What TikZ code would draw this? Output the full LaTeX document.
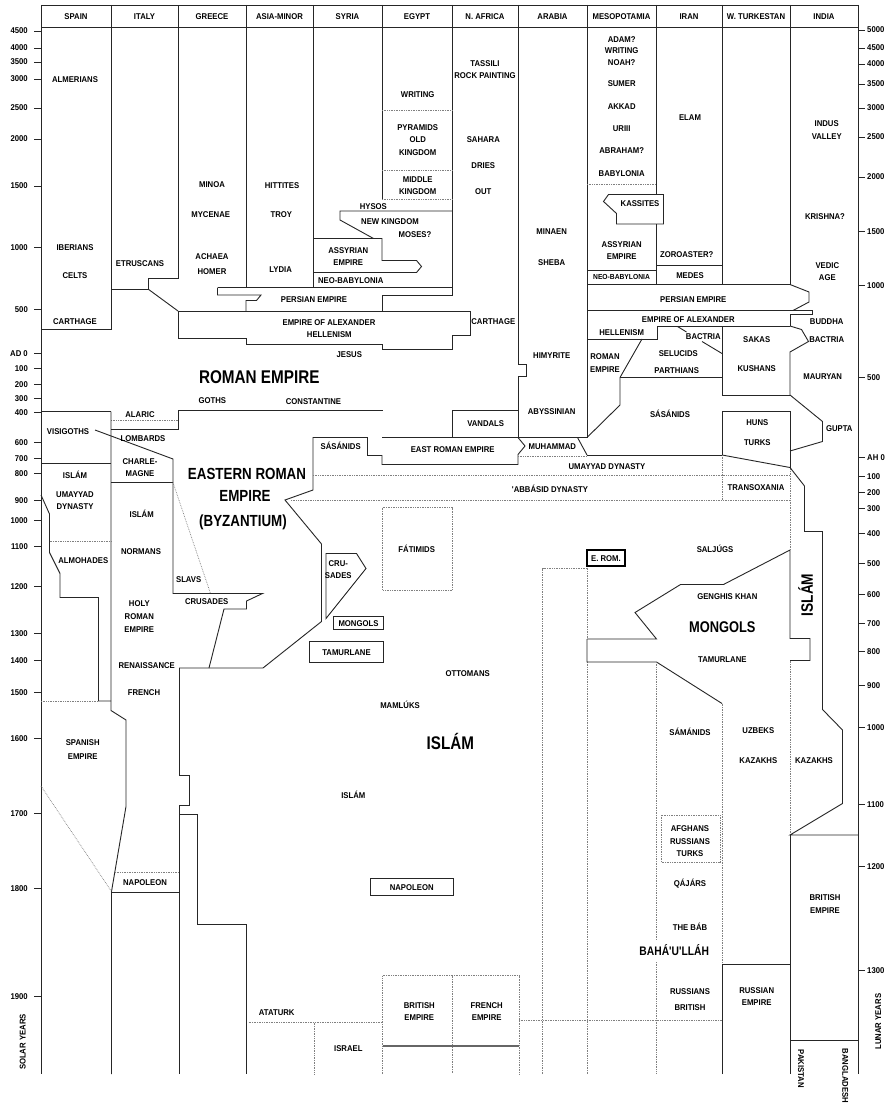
\documentclass[tikz,border=0pt]{standalone}
\usepackage{fontspec}
\newfontfamily\labfont{Liberation Sans}[FakeStretch=0.92]
\newfontfamily\bigfont{Liberation Sans}[FakeStretch=0.83]
\newcommand\tl[4]{\node[lab] (#1) at (#2,#3) {#4};}
\begin{document}
\begin{tikzpicture}[x=1pt,y=-1pt,
 ln/.style={line width=0.9pt, black!85, line join=miter},
 dt/.style={line width=0.7pt, black!50, dash pattern=on 0.7pt off 1pt},
 lab/.style={inner sep=0pt, font=\labfont\bfseries\fontsize{8.4}{9}\selectfont, text height=6pt, text depth=0pt},
 big/.style={inner sep=0pt, anchor=base, font=\bigfont\bfseries\fontsize{#1}{#1}\selectfont}]
\useasboundingbox[fill=white] (0,0) rectangle (891,1110);

% frame and axes
\draw[ln] (41,5)--(858,5);
\draw[ln] (41,27)--(858,27);
\draw[ln] (41,5)--(41,1074);
\draw[ln] (858,5)--(858,1074);
\foreach \v/\y [count=\i] in {4500/31,4000/48,3500/62,3000/79,2500/108,2000/139,1500/186,1000/247,500/309,AD 0/353,100/368.5,200/384,300/398,400/412,600/442,700/458,800/473.5,900/500,1000/520.5,1100/546,1200/586,1300/633,1400/660.5,1500/692,1600/738,1700/813,1800/888,1900/996}
 {\draw[ln] (34,\y)--(41,\y); \node[lab,anchor=east] (L\i) at (28,\y) {\v};}
\foreach \v/\y [count=\i] in {5000/30,4500/48,4000/64,3500/84,3000/108,2500/137,2000/177,1500/231,1000/285,500/377,AH 0/457.5,100/476.5,200/492.5,300/508.5,400/533,500/563,600/594.5,700/623.5,800/651.5,900/685.5,1000/727.5,1100/804,1200/866.5,1300/970.5}
 {\draw[ln] (858,\y)--(865,\y); \node[lab,anchor=west] (R\i) at (867,\y) {\v};}

% column lines (upper)
\draw[ln] (111,5)--(111,329)--(41,329);
\draw[ln] (111,289)--(148,289)--(148,278)--(178,278)--(178,5);
\draw[ln] (148,289)--(178,311);
\draw[ln] (246,5)--(246,287.5);
\draw[ln] (313,5)--(313,287.5);
\draw[ln] (382,5)--(382,199);
\draw[ln] (452,5)--(452,295)--(382,295)--(382,311);
\draw[ln] (518,5)--(518,364.5)--(526.5,364.5)--(526.5,376.5)--(518,376.5)--(518,437.5);
\draw[ln] (587,5)--(587,437.5);
\draw[ln] (656,5)--(656,194.5);
\draw[ln] (656,224)--(656,284.5);
\draw[ln] (722,5)--(722,284.5);
\draw[ln] (790,5)--(790,284.5);

% Syria / Egypt upper
\draw[ln] (313,238.5)--(382,238.5)--(382,260.5)--(416.5,260.5)--(421.5,266.5)--(416.5,272.5)--(313,272.5);
\draw[ln] (452,211)--(340,211)--(340,220)--(373.5,238.5);
\draw[ln] (217.5,287.5)--(452,287.5);
\draw[ln] (217.5,287.5)--(217.5,295)--(261,295)--(256.5,300.5)--(246,300.5)--(246,311);
\draw[ln] (178,311)--(470,311);
\draw[ln] (178,311)--(178,338)--(246,338)--(246,344)--(382,344)--(382,349.5)--(452,349.5)--(452,335.5)--(470,335.5)--(470,311);
\draw[dt] (382,110.5)--(452,110.5);
\draw[dt] (382,170.5)--(452,170.5);
\draw[dt] (382,199)--(452,199);

% Mesopotamia / Iran / India upper
\draw[dt] (587,184.5)--(656,184.5);
\draw[ln] (608.5,194.5)--(663.5,194.5)--(663.5,224)--(616.5,224)--(616.5,213.5)--(603.5,201.5)--cycle;
\draw[ln] (587,270.5)--(656,270.5);
\draw[ln] (656,265.5)--(722,265.5);
\draw[ln] (587,284.5)--(790,284.5)--(809,292)--(809,302)--(793,310.5);
\draw[ln] (587,310.5)--(812,310.5)--(812,314.5)--(790,314.5)--(790,326);
\draw[ln] (587,339)--(657,339)--(657,326)--(790,326);
\draw[ln] (642,339)--(620,377.5)--(620,405)--(587,437.5);
\draw[ln] (620,377.5)--(722,377.5);
\draw[ln] (677.5,326.5)--(686.5,332);
\draw[ln] (702,341.5)--(722,353.5);
\draw[ln] (722,326)--(722,395)--(790,395);
\draw[ln] (790,326)--(801.5,329.5)--(808.5,341.5)--(790,352)--(790,395)--(822.5,421.5)--(822.5,441.5)--(790,451);
\draw[ln] (722,455)--(722,411)--(790,411)--(790,467.5);
\draw[ln] (722,455)--(790,467.5);
\draw[ln] (587,455)--(722,455);
\draw[ln] (577.5,437.5)--(587,455);

% Roman / Byzantine
\draw[ln] (382,437.5)--(587,437.5);
\draw[ln] (518,437.5)--(525,446)--(518,454.5)--(518,464.5)--(382,464.5)--(382,455.5)--(367.5,455.5)--(367.5,437.5)--(313,437.5)--(313,490)--(285,500)--(321.5,544)--(321.5,621.5)--(263,668)--(179,668);
\draw[ln] (452,437.5)--(452,410)--(518,410);
\draw[ln] (178,410.5)--(382.5,410.5);
\draw[ln] (178,410.5)--(178,429.5)--(111,429.5);
\draw[dt] (111,420)--(178,420);
\draw[ln] (41,411.5)--(111,411.5);
\draw[ln] (41,463.5)--(111,463.5);
\draw[ln] (111,411.5)--(111,710.5)--(126,720)--(126,806.5)--(111.5,891.5)--(111.5,1074);
\draw[ln] (111,482.5)--(173,482.5);
\draw[ln] (95,430)--(173,459)--(173,593.5)--(262.5,593.5)--(246.5,601)--(246.5,609)--(224,609)--(209,668);
\draw[dt] (173,482.5)--(210.5,593.5);
\draw[ln] (41,495)--(49.5,514)--(49.5,552.5)--(60,573.5)--(60,597.5)--(98.5,597.5)--(98.5,701)--(111,701);
\draw[dt] (49.5,541.5)--(111,541.5);
\draw[dt] (41,701)--(98.5,701);
\draw[dt] (41,786)--(111.5,891.5);
\draw[dt] (115,872.5)--(179,872.5);
\draw[ln] (111.5,892.5)--(179,892.5);
\draw[ln] (179,668)--(179,775)--(189.5,775)--(189.5,805.5)--(179,805.5)--(179,1074);
\draw[ln] (179,814.5)--(197.5,814.5)--(197.5,924.5)--(246,924.5)--(246,1074);

% lower middle
\draw[dt] (248.5,1022.5)--(382.5,1022.5);
\draw[dt] (314.5,1022.5)--(314.5,1074);
\draw[dt] (382.5,1074)--(382.5,975.5)--(519,975.5)--(519,1074);
\draw[dt] (452.5,975.5)--(452.5,1074);
\draw[line width=1.6pt, black!60] (382.5,1046)--(519,1046);
\draw[dt] (519,1020)--(722,1020);
\draw[dt] (542.5,1074)--(542.5,568.5)--(587,568.5);
\draw[dt] (587,566)--(587,639);
\draw[dt] (587,662)--(587,1074);
\draw[dt] (518,456.5)--(587,456.5);
\draw[dt] (313,475.5)--(790,475.5);
\draw[dt] (291,500.5)--(790,500.5);
\draw[dt] (722,455)--(722,500.5);
\draw[dt] (382.5,507.5) rectangle (452.5,590);
\draw[ln] (326,553.5)--(356.5,553.5)--(366,568.5)--(326,618.5)--cycle;
\draw[ln] (333.5,616) rectangle (383.5,629.5);
\draw[ln] (309.5,641.5) rectangle (383.5,662.5);
\draw[ln] (370,878.5) rectangle (453.5,895.5);

% Iran / Turkestan / India lower
\draw[ln] (587,639)--(656.5,639)--(635,612.5)--(680.5,584.5)--(723.5,584.5)--(790,550)--(790,638.5)--(810,638.5)--(810,660.5)--(790,660.5);
\draw[ln] (587,639)--(587,662)--(656.5,662)--(722,703.5);
\draw[dt] (722,703.5)--(722,964);
\draw[ln] (722,1074)--(722,964)--(790,964);
\draw[dt] (656.5,662)--(656.5,940);
\draw[dt] (656.5,962)--(656.5,1074);
\draw[dt] (790,467.5)--(790,550);
\draw[dt] (790,660.5)--(790,835);
\draw[ln] (790,467.5)--(804.5,486)--(804.5,531.5)--(822.5,531.5)--(822.5,709.5)--(842.5,730)--(842.5,803.5)--(790,835)--(858,835);
\draw[ln] (790,835)--(790,1074);
\draw[ln] (790,1040.5)--(858,1040.5);
\draw[dt] (661.5,815) rectangle (720,862.5);
\draw[line width=1.5pt] (587,550) rectangle (625,566);

% headers
\tl{h1}{76}{17}{SPAIN}
\tl{h2}{144.5}{17}{ITALY}
\tl{h3}{212}{17}{GREECE}
\tl{h4}{279.5}{17}{ASIA-MINOR}
\tl{h5}{347.5}{17}{SYRIA}
\tl{h6}{417}{17}{EGYPT}
\tl{h7}{485}{17}{N. AFRICA}
\tl{h8}{552.5}{17}{ARABIA}
\tl{h9}{621.5}{17}{MESOPOTAMIA}
\tl{h10}{689}{17}{IRAN}
\tl{h11}{756}{17}{W. TURKESTAN}
\tl{h12}{824}{17}{INDIA}

% Spain
\tl{s1}{75}{80}{ALMERIANS}
\tl{s2}{75}{247}{IBERIANS}
\tl{s3}{75}{275.5}{CELTS}
\tl{s4}{75}{321.7}{CARTHAGE}
\tl{s5}{68}{431}{VISIGOTHS}
\tl{s6}{75}{475}{ISLÁM}
\tl{s7}{75}{494}{UMAYYAD}
\tl{s8}{75}{506.7}{DYNASTY}
\tl{s9}{83.3}{560}{ALMOHADES}
\tl{s10}{82.7}{742.7}{SPANISH}
\tl{s11}{82.7}{756}{EMPIRE}

% Italy
\tl{i1}{140}{263}{ETRUSCANS}
\tl{i2}{140}{414.3}{ALARIC}
\tl{i3}{143}{438.3}{LOMBARDS}
\tl{i4}{140}{461}{CHARLE-}
\tl{i5}{140}{473.3}{MAGNE}
\tl{i6}{141.7}{514.3}{ISLÁM}
\tl{i7}{141}{551}{NORMANS}
\tl{i8}{139.3}{603.3}{HOLY}
\tl{i9}{139.3}{616.7}{ROMAN}
\tl{i10}{139.3}{629.3}{EMPIRE}
\tl{i11}{146.7}{665}{RENAISSANCE}
\tl{i12}{144}{692.7}{FRENCH}
\tl{i13}{145}{882.7}{NAPOLEON}

% Greece / Asia Minor
\tl{g1}{212}{185}{MINOA}
\tl{g2}{210.7}{214.3}{MYCENAE}
\tl{g3}{212}{256}{ACHAEA}
\tl{g4}{212}{271.7}{HOMER}
\tl{g5}{188.7}{579.3}{SLAVS}
\tl{g6}{206.7}{601.7}{CRUSADES}
\tl{g7}{212.3}{400.7}{GOTHS}
\tl{g8}{276.7}{1012.7}{ATATURK}
\tl{a1}{282}{185.7}{HITTITES}
\tl{a2}{281.3}{214.3}{TROY}
\tl{a3}{280.7}{269.3}{LYDIA}
\tl{a4}{314}{299.5}{PERSIAN EMPIRE}
\tl{a5}{329}{322.3}{EMPIRE OF ALEXANDER}
\tl{a6}{329.3}{334.3}{HELLENISM}
\tl{a7}{349.3}{354.3}{JESUS}
\tl{a8}{313.5}{401}{CONSTANTINE}
\node[big=18.4] (roman) at (259.3,383.9) {ROMAN EMPIRE};
\node[big=16.1] (ere1) at (247,479.8) {EASTERN ROMAN};
\node[big=16.1] (ere2) at (245,501.8) {EMPIRE};
\node[big=16.1] (ere3) at (243,526.5) {(BYZANTIUM)};

% Syria
\tl{y1}{373.3}{206.7}{HYSOS}
\tl{y2}{390}{221}{NEW KINGDOM}
\tl{y3}{415}{234.3}{MOSES?}
\tl{y4}{348.3}{250}{ASSYRIAN}
\tl{y5}{348.3}{262.7}{EMPIRE}
\tl{y6}{350.7}{280}{NEO-BABYLONIA}
\tl{y7}{340.7}{446}{SÁSÁNIDS}
\tl{y8}{338.3}{563.3}{CRU-}
\tl{y9}{338.3}{575.7}{SADES}
\tl{y10}{358.5}{623}{MONGOLS}
\tl{y11}{346.5}{652.3}{TAMURLANE}
\tl{y12}{353.3}{795}{ISLÁM}
\tl{y13}{348.3}{1048}{ISRAEL}
\tl{y14}{400}{705}{MAMLÚKS}

% Egypt
\tl{e1}{417.7}{94.3}{WRITING}
\tl{e2}{417.7}{127.7}{PYRAMIDS}
\tl{e3}{417.7}{140}{OLD}
\tl{e4}{417.7}{152.7}{KINGDOM}
\tl{e5}{417.7}{179.3}{MIDDLE}
\tl{e6}{417.7}{191.7}{KINGDOM}
\tl{e7}{452.7}{449.3}{EAST ROMAN EMPIRE}
\tl{e8}{416.7}{549.3}{FÁTIMIDS}
\node[big=18.3] (islam) at (450.3,749.9) {ISLÁM};
\tl{e9}{411.7}{887}{NAPOLEON}
\tl{e10}{419.3}{1005}{BRITISH}
\tl{e11}{419.3}{1017.7}{EMPIRE}

% N. Africa
\tl{n1}{485}{63.3}{TASSILI}
\tl{n2}{485}{76}{ROCK PAINTING}
\tl{n3}{483.3}{140}{SAHARA}
\tl{n4}{483.3}{165.7}{DRIES}
\tl{n5}{483.3}{191.7}{OUT}
\tl{n6}{493.3}{321.7}{CARTHAGE}
\tl{n7}{485.7}{423.3}{VANDALS}
\tl{n8}{467.7}{673.3}{OTTOMANS}
\tl{n9}{486.7}{1005}{FRENCH}
\tl{n10}{486.7}{1017.7}{EMPIRE}
\tl{n11}{550}{489.3}{'ABBÁSID DYNASTY}

% Arabia
\tl{r1}{551.7}{231}{MINAEN}
\tl{r2}{551.7}{262.3}{SHEBA}
\tl{r3}{551.7}{355.7}{HIMYRITE}
\tl{r4}{551.7}{411.7}{ABYSSINIAN}
\tl{r5}{552.3}{446.7}{MUHAMMAD}
\tl{r6}{607}{466.7}{UMAYYAD DYNASTY}

% Mesopotamia
\tl{m1}{621.7}{39.3}{ADAM?}
\tl{m2}{621.7}{51}{WRITING}
\tl{m3}{621.7}{62.3}{NOAH?}
\tl{m4}{621.7}{84}{SUMER}
\tl{m5}{621.7}{106.7}{AKKAD}
\tl{m6}{621.7}{128.3}{URIII}
\tl{m7}{621.7}{151}{ABRAHAM?}
\tl{m8}{621.7}{173.3}{BABYLONIA}
\tl{m9}{640}{204}{KASSITES}
\tl{m10}{621.7}{244.3}{ASSYRIAN}
\tl{m11}{621.7}{256.7}{EMPIRE}
\node[lab, font=\labfont\bfseries\fontsize{7.3}{8}\selectfont, text height=5.2pt] (m12) at (621.5,277.3) {NEO-BABYLONIA};
\tl{m13}{621.7}{332}{HELLENISM}
\tl{m14}{605}{356}{ROMAN}
\tl{m15}{605}{369.3}{EMPIRE}
\tl{m16}{606}{558}{E. ROM.}

% Iran
\tl{p1}{690}{117.3}{ELAM}
\tl{p2}{686.7}{254}{ZOROASTER?}
\tl{p3}{690}{275}{MEDES}
\tl{p4}{693.3}{299.3}{PERSIAN EMPIRE}
\tl{p5}{688.3}{319.3}{EMPIRE OF ALEXANDER}
\tl{p6}{703.3}{336}{BACTRIA}
\tl{p7}{678.3}{353.3}{SELUCIDS}
\tl{p8}{676.7}{370}{PARTHIANS}
\tl{p9}{670}{414}{SÁSÁNIDS}
\tl{p10}{715}{549.3}{SALJÚGS}
\tl{p11}{727.3}{596}{GENGHIS KHAN}
\node[big=15.5] (mongols) at (722.3,632.9) {MONGOLS};
\tl{p12}{722.3}{659.3}{TAMURLANE}
\tl{p13}{690}{732.7}{SÁMÁNIDS}
\tl{p14}{690}{828.3}{AFGHANS}
\tl{p15}{690}{841}{RUSSIANS}
\tl{p16}{690}{853.3}{TURKS}
\tl{p17}{690}{883.3}{QÁJÁRS}
\tl{p18}{690}{927.7}{THE BÁB}
\node[big=12.4] (baha) at (674.2,955.4) {BAHÁ'U'LLÁH};
\tl{p19}{690}{991}{RUSSIANS}
\tl{p20}{690}{1007.3}{BRITISH}

% W. Turkestan
\tl{w1}{756.7}{339}{SAKAS}
\tl{w2}{756.7}{368.3}{KUSHANS}
\tl{w3}{757.3}{422.7}{HUNS}
\tl{w4}{757.3}{442.7}{TURKS}
\tl{w5}{756}{487.3}{TRANSOXANIA}
\tl{w6}{758.3}{730.7}{UZBEKS}
\tl{w7}{758.3}{760.7}{KAZAKHS}
\tl{w8}{756.7}{990}{RUSSIAN}
\tl{w9}{756.7}{1002.7}{EMPIRE}

% India
\tl{d1}{826.7}{124}{INDUS}
\tl{d2}{826.7}{136.7}{VALLEY}
\tl{d3}{825}{216.7}{KRISHNA?}
\tl{d4}{827.3}{265}{VEDIC}
\tl{d5}{827.3}{277.3}{AGE}
\tl{d6}{826.7}{321.7}{BUDDHA}
\tl{d7}{826.7}{339}{BACTRIA}
\tl{d8}{822.7}{376}{MAURYAN}
\tl{d9}{839.3}{428.3}{GUPTA}
\node[big=16.5, rotate=90] (islam2) at (812.9,595) {ISLÁM};
\tl{d10}{814}{760.7}{KAZAKHS}
\tl{d11}{825}{897.3}{BRITISH}
\tl{d12}{825}{910}{EMPIRE}
\node[lab, rotate=-90] (pak) at (801,1068.8) {PAKISTAN};
\node[lab, rotate=-90] (bang) at (845.3,1075.8) {BANGLADESH};
\node[lab, rotate=90] (solar) at (22.7,1042) {SOLAR YEARS};
\node[lab, rotate=90] (lunar) at (878,1021.7) {LUNAR YEARS};
\end{tikzpicture}
\end{document}
